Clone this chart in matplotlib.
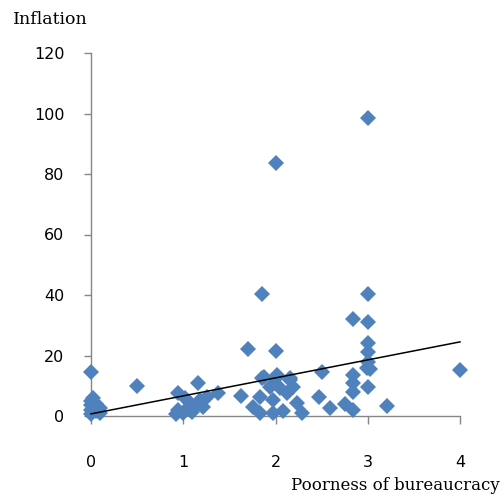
import matplotlib
matplotlib.use("Agg")
import matplotlib.pyplot as plt
import numpy as np

# Poorness of bureaucracy (x) vs inflation (y)
bureaucracy = [
    0.00, 0.00, 0.00, 0.00, 0.00, 0.05, 0.05, 0.10, 0.10, 0.02,
    0.50,
    0.94, 1.16, 1.38, 0.94, 0.92, 1.07, 1.18, 1.26, 1.02, 1.10, 1.21, 1.00, 1.05, 1.15,
    1.63, 1.70, 1.85, 2.00, 2.00,
    1.87, 2.02, 2.16, 1.83, 1.97, 2.12, 2.23, 2.29, 1.97, 1.83, 2.08, 1.76, 1.94, 2.05,
    2.19, 1.85, 2.01, 2.16,
    2.50, 2.47, 2.59, 2.75, 2.84, 2.84, 2.84, 2.84, 2.84,
    3.00, 3.00, 3.00, 3.00, 3.00, 3.00, 2.99, 3.02, 3.00,
    3.21, 4.00,
]
inflation = [
    14.5, 0.5, 2.0, 3.5, 5.0, 1.5, 4.0, 1.0, 2.5, 6.0,
    10.0,
    7.5, 11.0, 7.5, 2.0, 0.8, 4.3, 5.3, 6.3, 6.0, 1.3, 3.0, 1.0, 2.5, 3.5,
    6.6, 22.0, 40.3, 83.5, 21.5,
    13.0, 13.5, 12.5, 6.3, 5.3, 7.6, 4.3, 1.0, 1.0, 1.0, 1.5, 3.0, 9.6, 9.3,
    9.6, 12.5, 12.7, 12.0,
    14.5, 6.3, 2.6, 4.0, 32.0, 13.5, 10.9, 8.0, 2.0,
    98.5, 40.3, 31.0, 24.0, 21.0, 18.0, 16.0, 15.5, 9.6,
    3.3, 15.2,
]

trend_intercept = 0.7
trend_slope = 5.95
trend_x = [0, 4]

x_ticks = [0, 1, 2, 3, 4]
y_ticks = [0, 20, 40, 60, 80, 100, 120]

fig = plt.figure(figsize=(5.04, 4.97), dpi=100)
ax = fig.add_axes([91/504, 1 - 416/497, (460 - 91)/504, (416 - 53)/497])

ax.plot(bureaucracy, inflation, linestyle="none", marker="D", markersize=8,
        color="#4F81BD", markeredgewidth=0, zorder=3)
tx = np.array(trend_x)
ax.plot(tx, trend_intercept + trend_slope * tx, color="black", linewidth=1.1, zorder=4)

ax.set_xlim(0, 4)
ax.set_ylim(0, 120)
ax.set_xticks(x_ticks)
ax.set_yticks(y_ticks)
ax.set_xticklabels([str(v) for v in x_ticks])
ax.set_yticklabels([str(v) for v in y_ticks])

spine_color = "#868686"
for s in ["top", "right"]:
    ax.spines[s].set_visible(False)
for s in ["left", "bottom"]:
    ax.spines[s].set_color(spine_color)
    ax.spines[s].set_linewidth(1.0)

ax.tick_params(axis="x", direction="out", length=6, width=1.0, color=spine_color,
               pad=22, labelsize=11.5, labelcolor="black")
ax.tick_params(axis="y", direction="out", length=5, width=1.0, color=spine_color,
               pad=14, labelsize=11.5, labelcolor="black")
for lab in ax.get_xticklabels() + ax.get_yticklabels():
    lab.set_fontfamily("DejaVu Sans")

for art in ax.get_children():
    try:
        art.set_clip_on(False)
    except Exception:
        pass

fig.text(13/504, 1 - 20/497, "Inflation", family="DejaVu Serif", fontsize=12.5,
         ha="left", va="center")
fig.text(500/504, 1 - 485/497, "Poorness of bureaucracy", family="DejaVu Serif",
         fontsize=12, ha="right", va="center")

fig.savefig("out.png", dpi=100)
